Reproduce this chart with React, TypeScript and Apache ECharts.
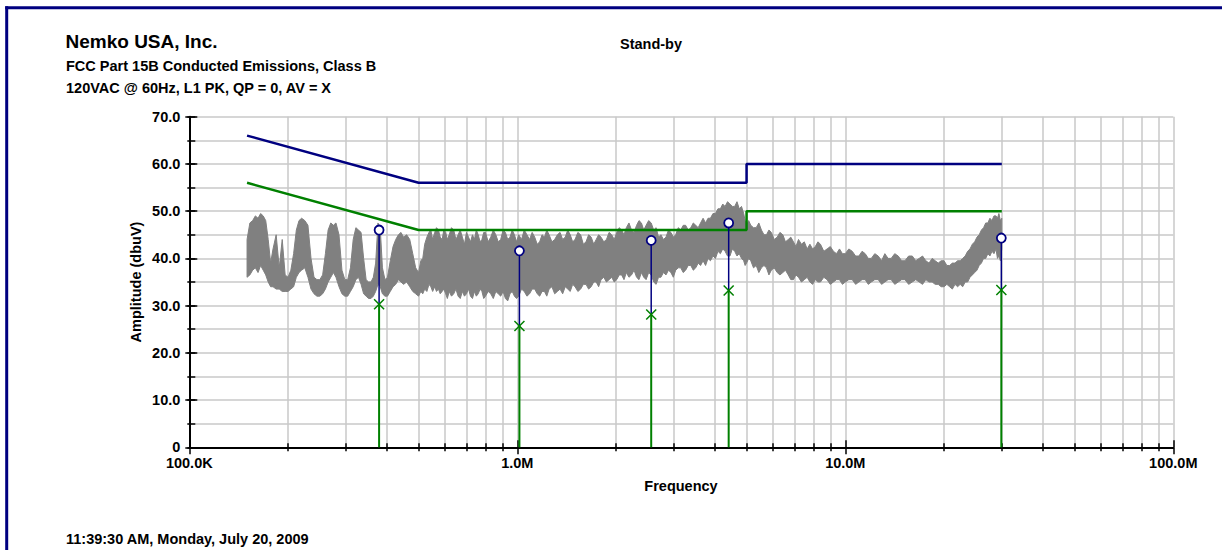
import React, { useEffect, useRef } from 'react';
import * as echarts from 'echarts';

// ---------- texts ----------
const TITLE = 'Nemko USA, Inc.';
const SUBTITLE_1 = 'FCC Part 15B Conducted Emissions, Class B';
const SUBTITLE_2 = '120VAC @ 60Hz, L1 PK, QP = 0, AV = X';
const MODE_LABEL = 'Stand-by';
const X_NAME = 'Frequency';
const Y_NAME = 'Amplitude (dbuV)';
const FOOTER = '11:39:30 AM, Monday, July 20, 2009';

// ---------- axes (frequency in MHz) ----------
const xDecadeMHz = [0.1, 1, 10, 100];
const xDecadeLabels = ['100.0K', '1.0M', '10.0M', '100.0M'];
const xMinorMHz = [0.2, 0.3, 0.4, 0.5, 0.6, 0.7, 0.8, 0.9, 2, 3, 4, 5, 6, 7, 8, 9, 20, 30, 40, 50, 60, 70, 80, 90];
const yMin = 0;
const yMax = 70;
const yMajorStep = 10;
const yMinorStep = 5;

// ---------- limit lines ----------
const qpLimitFreq = [0.15, 0.5, 5, 5, 30];
const qpLimitVal = [66, 56, 56, 60, 60];
const avLimitFreq = [0.15, 0.5, 5, 5, 30];
const avLimitVal = [56, 46, 46, 50, 50];

// ---------- measured markers ----------
const markerFreqMHz = [0.379, 1.015, 2.56, 4.41, 29.9];
const markerQP = [46.0, 41.6, 43.8, 47.5, 44.3];
const markerAV = [30.3, 25.7, 28.1, 33.2, 33.3];

// ---------- peak trace envelope ----------
const traceFreqMHz = [
  0.150, 0.153, 0.156, 0.159, 0.162, 0.165, 0.168, 0.171, 0.174, 0.177,
  0.180, 0.184, 0.188, 0.192, 0.196, 0.200, 0.204, 0.208, 0.212, 0.216,
  0.220, 0.225, 0.230, 0.235, 0.240, 0.245, 0.250, 0.255, 0.260, 0.265,
  0.270, 0.275, 0.280, 0.286, 0.292, 0.298, 0.304, 0.310, 0.316, 0.322,
  0.328, 0.334, 0.340, 0.346, 0.352, 0.358, 0.364, 0.370, 0.376, 0.382,
  0.388, 0.395, 0.402, 0.410, 0.418, 0.426, 0.434, 0.442, 0.450, 0.460,
  0.470, 0.480, 0.490,
  0.500, 0.508, 0.515, 0.522, 0.530, 0.538, 0.545, 0.552, 0.560, 0.567,
  0.575, 0.582, 0.590, 0.597, 0.605, 0.612, 0.62, 0.63, 0.64, 0.65,
  0.66, 0.67, 0.68, 0.69, 0.70, 0.71, 0.72, 0.73, 0.74, 0.75,
  0.76, 0.77, 0.78, 0.79, 0.80, 0.815, 0.83, 0.845, 0.86, 0.875,
  0.89, 0.905, 0.92, 0.935, 0.95, 0.965, 0.98, 0.995, 1.01, 1.03,
  1.05, 1.07, 1.09, 1.11, 1.13, 1.15, 1.17, 1.19, 1.21, 1.23,
  1.25, 1.275, 1.30, 1.325, 1.35, 1.375, 1.40, 1.425, 1.45, 1.475,
  1.50, 1.53, 1.56, 1.59, 1.62, 1.65, 1.68, 1.71, 1.74, 1.77,
  1.80, 1.835, 1.87, 1.905, 1.94, 1.975, 2.01, 2.045, 2.08, 2.115,
  2.15, 2.19, 2.23, 2.27, 2.31, 2.35, 2.39, 2.43, 2.47, 2.515,
  2.56, 2.605, 2.65, 2.695, 2.74, 2.79, 2.84, 2.89, 2.94, 2.99,
  3.04, 3.095, 3.15, 3.205, 3.26, 3.32, 3.38, 3.44, 3.50, 3.56,
  3.62, 3.685, 3.75, 3.815, 3.88, 3.95, 4.02, 4.09, 4.16, 4.23,
  4.30, 4.375, 4.45, 4.525, 4.60, 4.675, 4.75, 4.825, 4.90, 4.95,
  5.00, 5.075, 5.15, 5.25, 5.35, 5.45, 5.55, 5.65, 5.75, 5.85,
  5.95, 6.07, 6.2, 6.32, 6.45, 6.57, 6.7, 6.82, 6.95, 7.07,
  7.2, 7.35, 7.5, 7.65, 7.8, 7.95, 8.1, 8.25, 8.4, 8.6,
  8.8, 9.0, 9.2, 9.4, 9.6, 9.8, 10.0, 10.25, 10.5, 10.75,
  11.0, 11.25, 11.5, 11.75, 12.0, 12.3, 12.6, 12.9, 13.2, 13.5,
  13.8, 14.15, 14.5, 14.85, 15.2, 15.6, 16.0, 16.4, 16.8, 17.2,
  17.6, 18.0, 18.4, 18.8, 19.2, 19.6, 20.0, 20.4, 20.8, 21.2,
  21.6, 22.0, 22.4, 22.8, 23.2, 23.6, 24.0, 24.4, 24.8, 25.2,
  25.6, 26.0, 26.4, 26.8, 27.2, 27.6, 28.0, 28.4, 28.8, 29.1,
  29.4, 29.7, 30.0,
];
const traceLow = [
  36.0, 36.5, 37.5, 38.0, 37.0, 38.5, 37.5, 36.5, 35.0, 34.0,
  34.0, 33.5, 33.5, 33.0, 33.0, 33.0, 33.5, 34.0, 36.0, 37.0,
  37.5, 38.0, 36.0, 33.5, 32.5, 32.0, 32.0, 32.5, 33.5, 35.0,
  36.0, 37.0, 36.0, 34.0, 32.5, 32.0, 32.0, 33.0, 34.0, 35.5,
  36.0, 34.5, 32.5, 32.0, 31.5, 31.5, 32.0, 33.0, 34.5, 34.0,
  32.5, 32.0, 32.0, 33.0, 34.0, 34.5, 35.5, 35.0, 34.5, 35.0,
  34.0, 33.0, 32.5,
  32.0, 33.0, 32.5, 33.5, 33.0, 34.5, 34.0, 33.0, 34.0, 33.0,
  33.5, 32.5, 33.0, 33.5, 32.5, 31.5, 33.0, 32.0, 32.5, 33.5,
  32.0, 31.5, 33.0, 32.0, 32.5, 33.5, 32.0, 31.5, 33.0, 32.0,
  32.5, 33.5, 33.0, 31.5, 32.0, 33.0, 32.5, 31.5, 33.0, 32.5,
  32.0, 33.0, 31.5, 31.0, 32.5, 33.0, 32.0, 31.5, 32.0, 33.5,
  33.0, 32.0, 32.5, 33.5, 33.5, 32.5, 32.0, 33.0, 33.0, 32.0,
  33.5, 34.0, 32.5, 33.0, 33.5, 32.5, 34.0, 33.5, 33.0, 34.5,
  34.0, 33.0, 33.5, 34.5, 34.5, 33.5, 34.0, 35.0, 35.0, 34.0,
  35.5, 36.0, 35.0, 35.5, 36.0, 35.0, 35.5, 36.5, 36.5, 35.5,
  37.0, 36.0, 36.5, 37.5, 36.0, 35.5, 37.0, 36.0, 35.5, 37.0,
  36.5, 35.0, 34.5, 36.0, 36.0, 37.0, 36.5, 37.5, 37.0, 36.0,
  37.5, 38.0, 38.0, 37.0, 37.5, 38.5, 38.5, 37.5, 38.0, 39.0,
  38.5, 39.5, 38.5, 40.0, 39.5, 40.5, 40.0, 41.5, 41.0, 42.0,
  41.5, 40.5, 40.5, 42.0, 41.5, 40.5, 41.0, 40.0, 39.5, 38.5,
  39.0, 40.0, 39.5, 38.0, 38.5, 37.0, 38.0, 38.5, 38.0, 36.5,
  37.5, 38.0, 37.0, 36.5, 37.0, 37.5, 36.5, 35.5, 35.5, 36.5,
  36.0, 35.0, 35.5, 36.0, 35.0, 34.5, 35.5, 35.0, 35.0, 36.0,
  35.5, 34.5, 35.0, 35.5, 35.5, 34.5, 35.0, 35.5, 35.5, 34.5,
  35.0, 35.5, 35.5, 34.5, 35.0, 35.5, 35.5, 34.5, 35.0, 35.5,
  35.5, 34.5, 35.0, 35.5, 35.5, 34.5, 35.0, 35.5, 35.0, 34.5,
  35.5, 35.0, 35.0, 34.5, 34.5, 34.0, 34.0, 34.5, 34.0, 33.5,
  34.5, 34.0, 34.5, 34.0, 35.0, 35.0, 36.0, 36.5, 37.0, 37.5,
  38.5, 39.0, 40.0, 40.0, 41.0, 40.5, 41.5, 41.0, 42.0, 40.0,
  40.5, 39.5, 42.0,
];
const traceHigh = [
  44.0, 47.5, 48.0, 49.0, 48.5, 49.5, 49.0, 48.0, 44.0, 39.0,
  42.0, 45.0, 38.0, 44.0, 36.5, 36.0, 37.5, 41.0, 46.0, 48.0,
  48.5, 48.0, 47.0, 40.0, 36.0, 35.5, 35.5, 36.5, 41.0, 46.0,
  47.5, 47.0, 47.5, 45.0, 37.5, 35.5, 35.5, 38.0, 44.0, 46.5,
  46.0, 45.5, 40.0, 35.5, 35.0, 35.0, 36.0, 39.0, 47.5, 46.5,
  38.0, 35.5, 36.0, 39.5, 42.5, 44.0, 45.0, 45.5, 44.5, 45.0,
  44.0, 41.0, 38.0,
  37.0, 39.5, 40.0, 43.0, 44.5, 45.5, 46.0, 44.0, 45.5, 46.5,
  46.0, 44.5, 44.0, 46.0, 45.5, 44.0, 45.0, 46.5, 46.0, 44.0,
  45.0, 46.0, 44.5, 43.0, 45.5, 44.5, 43.5, 45.0, 44.0, 46.0,
  45.0, 43.5, 44.0, 45.5, 45.5, 43.5, 44.5, 46.0, 45.0, 43.5,
  44.0, 46.0, 45.5, 44.0, 44.5, 46.0, 45.0, 43.5, 45.0, 44.0,
  46.0, 45.0, 44.0, 45.5, 44.5, 43.0, 43.5, 45.0, 44.5, 46.0,
  45.0, 43.5, 44.0, 45.0, 45.5, 44.0, 44.5, 46.0, 45.0, 43.5,
  44.0, 45.5, 45.0, 43.0, 43.5, 45.0, 44.5, 43.0, 44.0, 45.0,
  44.5, 43.5, 44.0, 45.5, 45.0, 44.0, 45.5, 46.5, 46.0, 45.0,
  46.5, 47.5, 46.0, 45.5, 47.0, 48.0, 47.5, 46.0, 47.0, 48.0,
  47.5, 46.0, 46.5, 44.5, 45.0, 44.0, 44.5, 46.0, 45.5, 44.5,
  45.0, 46.5, 46.0, 47.0, 47.0, 46.0, 46.5, 47.5, 47.0, 46.5,
  47.5, 48.5, 47.5, 48.5, 48.5, 49.5, 49.5, 50.5, 50.5, 51.5,
  51.0, 52.0, 51.5, 51.0, 51.0, 52.0, 50.5, 51.0, 49.5, 48.0,
  47.0, 48.0, 47.0, 46.5, 46.5, 47.5, 46.0, 45.0, 45.0, 46.0,
  45.5, 44.0, 44.5, 45.5, 45.0, 43.5, 44.0, 44.5, 43.5, 42.5,
  44.0, 43.0, 43.5, 42.0, 43.0, 42.0, 42.5, 43.5, 43.0, 41.5,
  42.0, 42.5, 41.5, 41.0, 42.0, 41.0, 41.0, 42.0, 41.5, 40.5,
  40.5, 41.5, 41.0, 40.0, 40.0, 41.0, 40.5, 39.5, 41.0, 40.0,
  40.0, 41.0, 40.5, 39.5, 39.5, 40.5, 40.5, 39.5, 40.0, 40.5,
  39.5, 39.0, 40.0, 39.5, 39.0, 39.5, 39.5, 38.5, 38.5, 39.0,
  39.0, 39.5, 39.5, 40.0, 40.5, 41.5, 42.0, 43.0, 43.5, 44.5,
  45.0, 46.0, 46.5, 47.5, 47.5, 48.5, 48.0, 49.0, 49.0, 48.5,
  49.5, 48.0, 48.5,
];

// ---------- styles ----------
const FONT_FAMILY = '"Liberation Sans", Arial, Helvetica, sans-serif';
const NAVY = '#000080';
const GREEN = '#008000';
const TRACE_GRAY = '#808080';
const GRID_GRAY = '#c8c8c8';
const LABEL_SIZE = 14.5;

const lg = (v: number) => Math.log10(v);

export default function App() {
  const ref = useRef<HTMLDivElement>(null);

  useEffect(() => {
    if (!ref.current) return;
    const chart = echarts.init(ref.current, undefined, { renderer: 'svg' });

    const xMin = lg(xDecadeMHz[0]);
    const xMax = lg(xDecadeMHz[xDecadeMHz.length - 1]);
    const minorVals = xMinorMHz.map(lg);
    const labelFor = (v: number) => {
      const idx = xDecadeMHz.findIndex((d) => Math.abs(lg(d) - v) < 1e-6);
      return idx >= 0 ? xDecadeLabels[idx] : '';
    };

    const baseX = {
      type: 'value' as const,
      min: xMin,
      max: xMax,
      position: 'bottom' as const,
      gridIndex: 0,
      axisLine: { show: false, onZero: false },
      axisTick: { show: false },
      axisLabel: { show: false },
      splitLine: { show: false },
    };
    const baseY = {
      type: 'value' as const,
      min: yMin,
      max: yMax,
      position: 'left' as const,
      gridIndex: 0,
      axisLine: { show: false, onZero: false },
      axisTick: { show: false },
      axisLabel: { show: false },
      splitLine: { show: false },
    };
    const tickStyle = { color: '#000', width: 1.5 };
    const gridLine = { show: true, lineStyle: { color: GRID_GRAY, width: 1.5 } };

    const xAxis = [
      {
        ...baseX,
        interval: 1,
        z: 1,
        axisLine: { show: true, onZero: false, lineStyle: { color: '#000', width: 2 } },
        axisTick: { show: true, inside: false, length: 7, lineStyle: tickStyle },
        axisLabel: {
          show: true,
          margin: 8,
          color: '#000',
          fontFamily: FONT_FAMILY,
          fontWeight: 'bold',
          fontSize: LABEL_SIZE,
          formatter: (v: number) => labelFor(v),
        },
      },
      { ...baseX, interval: 1, z: 1, axisTick: { show: true, inside: true, length: 7, lineStyle: tickStyle } },
      { ...baseX, z: 1, axisTick: { show: true, inside: false, length: 4, lineStyle: tickStyle, customValues: minorVals } },
      { ...baseX, z: 1, axisTick: { show: true, inside: true, length: 4, lineStyle: tickStyle, customValues: minorVals } },
      { ...baseX, interval: 1, z: 0, splitLine: gridLine },
      { ...baseX, z: 0, axisTick: { show: false, customValues: minorVals }, splitLine: gridLine },
    ];

    const yAxis = [
      {
        ...baseY,
        interval: yMajorStep,
        z: 1,
        axisLine: { show: true, onZero: false, lineStyle: { color: '#000', width: 2 } },
        axisTick: { show: true, inside: false, length: 4, lineStyle: tickStyle },
        axisLabel: {
          show: true,
          margin: 9,
          color: '#000',
          fontFamily: FONT_FAMILY,
          fontWeight: 'bold',
          fontSize: LABEL_SIZE,
          formatter: (v: number) => (v === 0 ? '0' : v.toFixed(1)),
        },
      },
      { ...baseY, interval: yMajorStep, z: 1, axisTick: { show: true, inside: true, length: 8, lineStyle: tickStyle } },
      { ...baseY, interval: yMinorStep, z: 1, axisTick: { show: true, inside: true, length: 6, lineStyle: tickStyle } },
      { ...baseY, interval: yMinorStep, z: 1, axisTick: { show: true, inside: false, length: 2, lineStyle: tickStyle } },
      { ...baseY, interval: yMinorStep, z: 0, splitLine: gridLine },
    ];

    const traceData = traceFreqMHz.map((f, i) => [lg(f), traceLow[i], traceHigh[i]]);
    const stemData = markerFreqMHz.map((f, i) => [lg(f), markerAV[i], markerQP[i]]);

    const textStyle = (size: number) => `bold ${size}px ${FONT_FAMILY}`;
    const mkText = (text: string, x: number, y: number, size: number, align: string, rotation = 0) => ({
      type: 'text',
      x,
      y,
      rotation,
      silent: true,
      style: {
        text,
        font: textStyle(size),
        fill: '#000',
        textAlign: align,
        textVerticalAlign: 'middle',
        align,
        verticalAlign: 'middle',
      },
    });

    chart.setOption({
      animation: false,
      backgroundColor: '#ffffff',
      grid: { left: 189.3, right: 48.7, top: 116.7, bottom: 102.7, containLabel: false },
      xAxis,
      yAxis,
      graphic: [
        {
          type: 'line',
          silent: true,
          shape: { x1: 5.2, y1: 7.8, x2: 1222, y2: 7.8 },
          style: { stroke: NAVY, lineWidth: 3 },
        },
        {
          type: 'line',
          silent: true,
          shape: { x1: 6.7, y1: 6.3, x2: 6.7, y2: 550 },
          style: { stroke: NAVY, lineWidth: 3 },
        },
        mkText(TITLE, 65.5, 41, 19, 'left'),
        mkText(SUBTITLE_1, 66, 66, LABEL_SIZE, 'left'),
        mkText(SUBTITLE_2, 66, 88, LABEL_SIZE, 'left'),
        mkText(MODE_LABEL, 651, 43.5, LABEL_SIZE, 'center'),
        mkText(X_NAME, 681, 486, LABEL_SIZE, 'center'),
        mkText(Y_NAME, 136, 282, LABEL_SIZE, 'center', Math.PI / 2),
        mkText(FOOTER, 66, 538.7, LABEL_SIZE, 'left'),
      ],
      series: [
        {
          name: 'Peak trace',
          type: 'custom',
          xAxisIndex: 0,
          yAxisIndex: 0,
          z: 2,
          silent: true,
          data: traceData,
          encode: { x: 0, y: [1, 2] },
          renderItem: (params: any, api: any) => {
            if (params.dataIndex !== 0) return null;
            const top = traceData.map((d) => api.coord([d[0], d[2]]));
            const bottom = traceData.map((d) => api.coord([d[0], d[1]])).reverse();
            return {
              type: 'polygon',
              shape: { points: top.concat(bottom) },
              style: { fill: TRACE_GRAY, stroke: TRACE_GRAY, lineWidth: 1 },
            };
          },
        },
        {
          name: 'QP limit',
          type: 'line',
          z: 3,
          silent: true,
          symbol: 'none',
          data: qpLimitFreq.map((f, i) => [lg(f), qpLimitVal[i]]),
          lineStyle: { color: NAVY, width: 2.5 },
        },
        {
          name: 'AV limit',
          type: 'line',
          z: 3,
          silent: true,
          symbol: 'none',
          data: avLimitFreq.map((f, i) => [lg(f), avLimitVal[i]]),
          lineStyle: { color: GREEN, width: 2.5 },
        },
        {
          name: 'Markers',
          type: 'custom',
          z: 4,
          silent: true,
          data: stemData,
          encode: { x: 0, y: [1, 2] },
          renderItem: (params: any, api: any) => {
            const x = api.value(0);
            const av = api.value(1);
            const qp = api.value(2);
            const p0 = api.coord([x, 0]);
            const p1 = api.coord([x, av]);
            const p2 = api.coord([x, qp]);
            const h = 5;
            return {
              type: 'group',
              children: [
                { type: 'line', shape: { x1: p0[0], y1: p0[1], x2: p1[0], y2: p1[1] }, style: { stroke: GREEN, lineWidth: 2 } },
                { type: 'line', shape: { x1: p1[0], y1: p1[1], x2: p2[0], y2: p2[1] }, style: { stroke: NAVY, lineWidth: 1.5 } },
                { type: 'line', shape: { x1: p1[0] - h, y1: p1[1] - h, x2: p1[0] + h, y2: p1[1] + h }, style: { stroke: GREEN, lineWidth: 1.5 } },
                { type: 'line', shape: { x1: p1[0] - h, y1: p1[1] + h, x2: p1[0] + h, y2: p1[1] - h }, style: { stroke: GREEN, lineWidth: 1.5 } },
              ],
            };
          },
        },
        {
          name: 'QP',
          type: 'scatter',
          z: 5,
          silent: true,
          symbol: 'circle',
          symbolSize: 9,
          data: markerFreqMHz.map((f, i) => [lg(f), markerQP[i]]),
          itemStyle: { color: '#ffffff', borderColor: NAVY, borderWidth: 1.8, opacity: 1 },
        },
      ],
    });

    return () => chart.dispose();
  }, []);

  return (
    <div
      ref={ref}
      style={{ position: 'fixed', left: 0, top: 0, width: 1222, height: 550, background: '#fff' }}
    />
  );
}
